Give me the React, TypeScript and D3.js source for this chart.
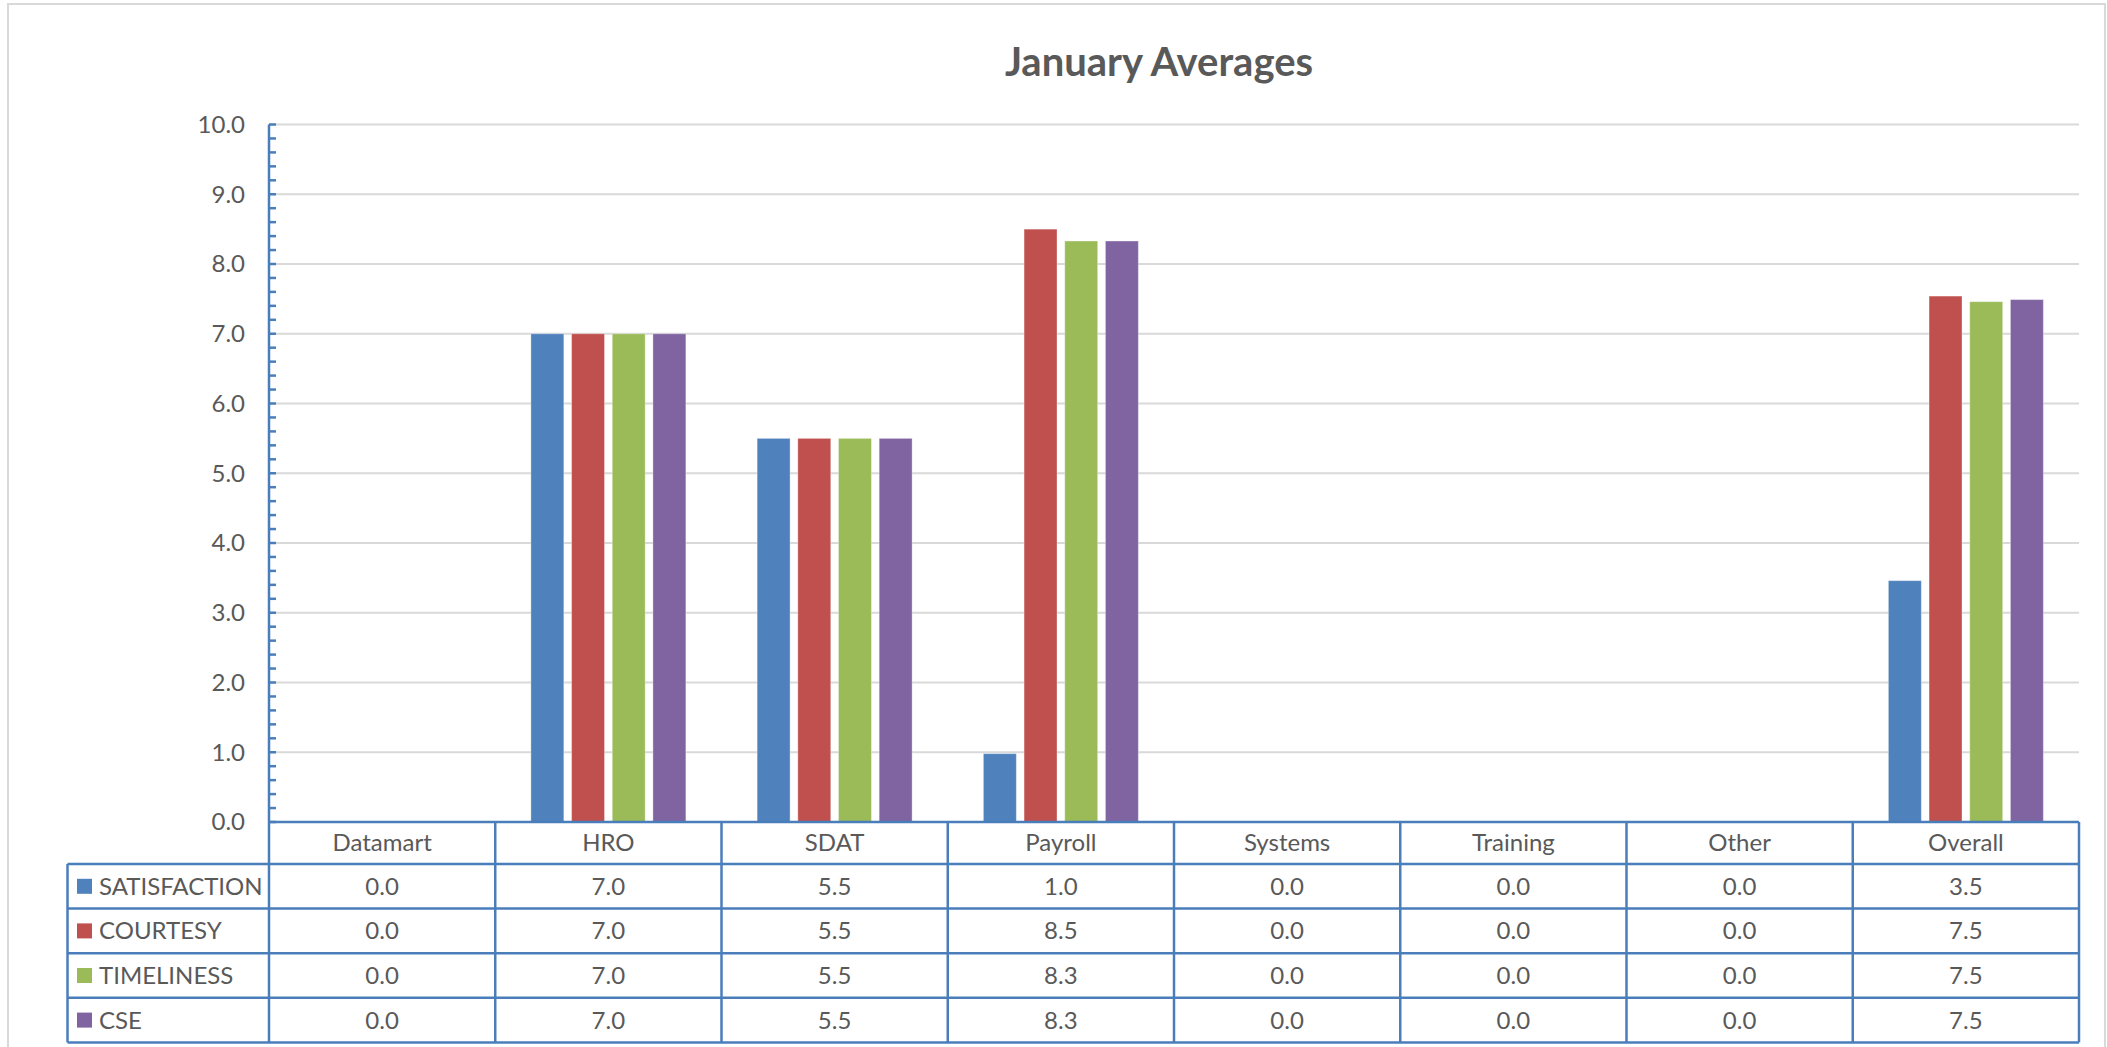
import * as d3 from "d3";
import { useEffect } from "react";

// chart data
const categories = ["Datamart", "HRO", "SDAT", "Payroll", "Systems", "Training", "Other", "Overall"];
const seriesNames = ["SATISFACTION", "COURTESY", "TIMELINESS", "CSE"];
const satisfaction = [0, 7.0, 5.5, 0.98, 0, 0, 0, 3.46];
const courtesy = [0, 7.0, 5.5, 8.5, 0, 0, 0, 7.54];
const timeliness = [0, 7.0, 5.5, 8.33, 0, 0, 0, 7.46];
const cse = [0, 7.0, 5.5, 8.33, 0, 0, 0, 7.49];
const seriesColors = ["#4f81bd", "#c0504d", "#9bbb59", "#8064a2"];
const yMax = 10;

const W = 2107;
const H = 1047;
const FONT = "Lato, 'Open Sans', sans-serif";
const textColor = "#595959";
const lineBlue = "#4a7ebb";

export default function App() {
  useEffect(() => {
    document.body.style.margin = "0";
  }, []);

  const values = [satisfaction, courtesy, timeliness, cse];

  // plot area
  const left = 269;
  const right = 2079;
  const top = 124.5;
  const base = 822;

  const x0 = d3.scaleBand().domain(categories).range([left, right]).padding(0);
  const bw = x0.bandwidth();
  const groupW = bw * 0.685;
  const x1 = d3
    .scaleBand()
    .domain(seriesNames)
    .range([(bw - groupW) / 2, (bw + groupW) / 2])
    .paddingInner(0.19);
  const y = d3.scaleLinear().domain([0, yMax]).range([base, top]);
  const fmt = d3.format(".1f");

  const majorTicks = y.ticks(10);
  const minorTicks = d3.range(0, yMax + 0.001, 0.2);

  // table rows
  const headerBottom = 864;
  const rowH = 44.6;
  const rowTops = seriesNames.map((_, i) => headerBottom + i * rowH);
  const tableBottom = headerBottom + seriesNames.length * rowH;
  const legendLeft = 67.5;

  return (
    <svg width={W} height={H} style={{ display: "block" }} fontFamily={FONT}>
      <rect x={0} y={0} width={W} height={H} fill="#fff" />
      {/* outer chart frame */}
      <rect x={8} y={4} width={2097} height={1070} fill="none" stroke="#d9d9d9" strokeWidth={2} />

      <text
        x={1159}
        y={76}
        textAnchor="middle"
        fontSize={40}
        fontWeight="bold"
        fill={textColor}
      >
        January Averages
      </text>

      {/* gridlines */}
      {majorTicks
        .filter((t) => t > 0)
        .map((t) => (
          <line key={"g" + t} x1={left} x2={right} y1={y(t)} y2={y(t)} stroke="#d9d9d9" strokeWidth={2} />
        ))}

      {/* y tick labels */}
      {majorTicks.map((t) => (
        <text
          key={"yl" + t}
          x={245}
          y={y(t)}
          dy="0.35em"
          textAnchor="end"
          fontSize={24}
          fill={textColor}
        >
          {fmt(t)}
        </text>
      ))}

      {/* bars */}
      {values.map((vals, si) => (
        <g key={seriesNames[si]} fill={seriesColors[si]}>
          {vals.map((v, ci) => (
            <rect
              key={ci}
              x={(x0(categories[ci]) as number) + (x1(seriesNames[si]) as number)}
              y={y(v)}
              width={x1.bandwidth()}
              height={base - y(v)}
              stroke="#ffffff"
              strokeOpacity={0.35}
              strokeWidth={1}
            />
          ))}
        </g>
      ))}

      {/* y axis line and ticks */}
      <line x1={left} x2={left} y1={top} y2={base} stroke={lineBlue} strokeWidth={2.5} />
      {minorTicks.map((t, i) => (
        <line key={"mt" + i} x1={left} x2={left + 7} y1={y(t)} y2={y(t)} stroke={lineBlue} strokeWidth={2.5} />
      ))}

      {/* data table */}
      <g stroke={lineBlue} strokeWidth={2.5} fill="none">
        <line x1={left} x2={right} y1={base} y2={base} />
        <line x1={legendLeft} x2={right} y1={headerBottom} y2={headerBottom} />
        {rowTops.map((r, i) => (
          <line key={"rl" + i} x1={legendLeft} x2={right} y1={r + rowH} y2={r + rowH} />
        ))}
        <line x1={legendLeft} x2={legendLeft} y1={headerBottom} y2={tableBottom} />
        {categories.map((c) => (
          <line key={"cl" + c} x1={x0(c)} x2={x0(c)} y1={base} y2={tableBottom} />
        ))}
        <line x1={right} x2={right} y1={base} y2={tableBottom} />
      </g>

      {/* header labels */}
      {categories.map((c) => (
        <text
          key={"h" + c}
          x={(x0(c) as number) + bw / 2}
          y={(base + headerBottom) / 2}
          dy="0.35em"
          textAnchor="middle"
          fontSize={24}
          fill={textColor}
        >
          {c}
        </text>
      ))}

      {/* legend keys + values */}
      {seriesNames.map((s, si) => (
        <g key={"row" + s}>
          <rect x={77} y={rowTops[si] + rowH / 2 - 7.5} width={15} height={15} fill={seriesColors[si]} />
          <text x={99} y={rowTops[si] + rowH / 2} dy="0.35em" fontSize={24} fill={textColor}>
            {s}
          </text>
          {values[si].map((v, ci) => (
            <text
              key={ci}
              x={(x0(categories[ci]) as number) + bw / 2}
              y={rowTops[si] + rowH / 2}
              dy="0.35em"
              textAnchor="middle"
              fontSize={24}
              fill={textColor}
            >
              {fmt(v)}
            </text>
          ))}
        </g>
      ))}
    </svg>
  );
}
